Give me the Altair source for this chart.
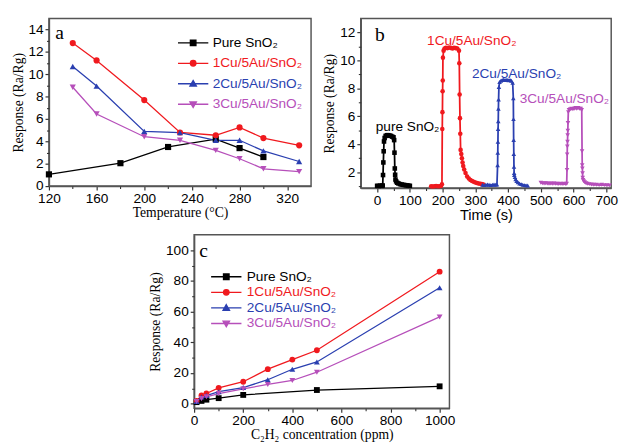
import altair as alt
import pandas as pd

SANS = "Liberation Sans"
SERIF = "Liberation Serif"

names = ["Pure SnO₂", "1Cu/5Au/SnO₂", "2Cu/5Au/SnO₂", "3Cu/5Au/SnO₂"]
colors = ["#000000", "#f0191e", "#2a3fb0", "#b64fba"]
marker_shapes = ["square", "circle", "triangle-up", "triangle-down"]
legend_shapes = [
    "M-5.5,0H5.5M-1,-1H1V1H-1Z",
    "M-5.5,0H5.5M1,0A1,1,0,1,1,-1,0A1,1,0,1,1,1,0Z",
    "M-5.5,0H5.5M0,-1.15L1.15,0.85H-1.15Z",
    "M-5.5,0H5.5M0,1.15L1.15,-0.85H-1.15Z",
]

# ---- panel a: response vs temperature ----
temp_pure = [120, 180, 220, 260, 280, 300]
resp_pure = [1.05, 2.05, 3.5, 4.2, 3.4, 2.6]
temp_cu = [140, 160, 200, 230, 260, 280, 300, 330]
resp_1cu = [12.8, 11.25, 7.7, 4.8, 4.55, 5.25, 4.3, 3.65]
resp_2cu = [10.7, 8.95, 4.9, 4.78, 4.1, 4.1, 3.15, 2.2]
resp_3cu = [8.85, 6.45, 4.42, 4.1, 3.2, 2.45, 1.55, 1.3]

# ---- panel b: dynamic response vs time ----
t_pure = [0, 5, 10, 15, 17, 18, 19, 20, 21, 23, 26, 30, 34, 38, 42, 46, 50, 52, 53, 54,
          55, 56, 58, 61, 65, 70, 75, 80, 85, 90, 95, 100]
v_pure = [1.03, 1.02, 1.04, 1.03, 1.05, 1.8, 2.7, 3.5, 4.2, 4.45, 4.6, 4.65, 4.65, 4.62, 4.6, 4.55, 4.5, 4.3, 3.4, 2.27,
          1.82, 1.48, 1.35, 1.25, 1.2, 1.15, 1.12, 1.1, 1.08, 1.06, 1.05, 1.03]
t_1cu = [165, 170, 175, 180, 185, 190, 195, 198,
         199, 199.5, 200, 200.5, 201, 203, 206,
         210, 215, 220, 225, 230, 235, 240, 245, 250,
         251, 252, 253, 254, 255, 257, 259, 261, 263, 266, 270, 275, 280, 285, 290, 295, 300, 305, 310, 315, 320, 325]
v_1cu = [1.0, 0.98, 1.0, 1.02, 1.0, 1.0, 1.02, 1.14,
         5.1, 6.3, 7.8, 8.57, 10.2, 10.7, 10.85,
         10.9, 10.88, 10.92, 10.9, 10.85, 10.9, 10.88, 10.85, 10.7,
         9.8, 7.56, 5.87, 4.75, 3.6, 3.3, 3.0, 2.7, 2.45, 2.2, 1.95, 1.7, 1.55, 1.45, 1.38, 1.32, 1.27, 1.23, 1.2, 1.18, 1.15, 1.13]
t_2cu = [322, 327, 332, 337, 342, 347, 352, 357, 362, 366,
         368, 368.5, 369, 369.5, 370, 370.5, 371,
         372, 374, 378, 382, 386, 390, 394, 398, 402, 406, 410, 414,
         416, 416.5, 417, 417.5, 418, 418.5, 419,
         421, 423, 426, 430, 435, 440, 445, 450, 455, 460]
v_2cu = [1.1, 1.08, 1.1, 1.12, 1.1, 1.08, 1.1, 1.12, 1.1, 1.12,
         2.5, 3.4, 4.18, 5.09, 5.65, 6.55, 7.2,
         8.1, 8.45, 8.55, 8.6, 8.62, 8.6, 8.62, 8.6, 8.58, 8.6, 8.55, 8.4,
         7.3, 5.8, 4.3, 3.3, 2.4, 1.95, 1.8,
         1.65, 1.5, 1.38, 1.28, 1.2, 1.15, 1.1, 1.08, 1.06, 1.05]
t_3cu = [500, 505, 510, 515, 520, 525, 530, 535, 540, 545, 550, 555, 560, 565, 570, 575, 579,
         580, 580.5, 581, 581.5, 582, 582.5, 583,
         584, 586, 590, 594, 598, 602, 606, 610, 614, 618, 622, 625,
         626, 626.5, 627, 627.5, 628,
         629, 631, 634, 638, 642, 648, 655, 662, 670, 678, 686, 694, 702, 710]
v_3cu = [1.25, 1.22, 1.2, 1.22, 1.2, 1.18, 1.2, 1.18, 1.2, 1.17, 1.18, 1.16, 1.18, 1.15, 1.17, 1.16, 1.18,
         2.16, 3.28, 3.84, 4.18, 4.64, 4.97, 5.53,
         6.3, 6.45, 6.5, 6.55, 6.5, 6.55, 6.6, 6.55, 6.6, 6.55, 6.55, 6.45,
         3.5, 2.5, 2.27, 1.93, 1.6,
         1.45, 1.35, 1.28, 1.22, 1.18, 1.15, 1.12, 1.1, 1.1, 1.08, 1.1, 1.08, 1.07, 1.06]
b_labels = ["pure SnO₂", "1Cu/5Au/SnO₂", "2Cu/5Au/SnO₂", "3Cu/5Au/SnO₂"]
b_label_x = [93, 289, 426, 572]
b_label_y = [5.2, 11.4, 9.0, 7.22]

# ---- panel c: response vs concentration ----
conc_pure = [10, 30, 50, 100, 200, 500, 1000]
c_pure = [1.0, 1.8, 2.6, 3.6, 5.7, 8.9, 11.3]
conc_cu = [10, 30, 50, 100, 200, 300, 400, 500, 1000]
c_1cu = [1.8, 5.3, 6.6, 10.3, 14.3, 22.5, 28.7, 34.8, 86.0]
c_2cu = [1.5, 4.3, 5.3, 7.8, 10.5, 15.6, 22.4, 27.2, 75.5]
c_3cu = [1.4, 3.3, 4.5, 6.6, 9.7, 12.5, 15.1, 20.5, 56.5]

letters = ["a", "b", "c"]
letter_x = [129, 8, 39]
letter_y = [13.7, 11.8, 99.2]


def to_long(xs_list, ys_list):
    rows = []
    for name, xs, ys in zip(names, xs_list, ys_list):
        for xv, yv in zip(xs, ys):
            rows.append({"series": name, "x": xv, "y": yv})
    return pd.DataFrame(rows)


color_expr = " : ".join(
    f"datum.value == '{n}' ? '{c}'" for n, c in zip(names, colors)) + " : 'black'"


def make_axis(values, title, title_font, title_size=14, title_pad=2):
    return alt.Axis(values=values, title=title, titleFont=title_font, titleFontSize=title_size,
                    titleFontWeight="normal", titleColor="black", titlePadding=title_pad,
                    labelFont=SANS, labelFontSize=14, labelColor="black", labelPadding=2,
                    tickSize=4, tickColor="#333", tickWidth=1.2, domainColor="#555",
                    domainWidth=1.5, grid=False, labelFlush=False, labelOverlap=False,
                    format="d")


def minor_axis(values, orient):
    return alt.Axis(values=values, orient=orient, labels=False, title=None, domain=False,
                    grid=False, tickSize=2.5, tickColor="#333", tickWidth=1.1)


def panel(df, xdom, ydom, xaxis, yaxis, xminor, yminor, w, h, msize, lw, letter_idx,
          legend_pos=None, texts=None):
    sx = alt.Scale(domain=xdom, nice=False, zero=False)
    sy = alt.Scale(domain=ydom, nice=False, zero=False)
    x_main = alt.X("x:Q", scale=sx, axis=xaxis)
    y_main = alt.Y("y:Q", scale=sy, axis=yaxis)
    x = alt.X("x:Q", scale=sx, axis=None)
    y = alt.Y("y:Q", scale=sy, axis=None)
    color = alt.Color("series:N", scale=alt.Scale(domain=names, range=colors), legend=None)
    base = alt.Chart(df)
    layers = [base.mark_line(strokeWidth=lw).encode(x=x_main, y=y_main, color=color)]
    layers.append(base.transform_filter("false").mark_point(opacity=0).encode(
        x=alt.X("x:Q", scale=sx, axis=minor_axis(xminor, "bottom")),
        y=alt.Y("y:Q", scale=sy, axis=minor_axis(yminor, "left"))))
    for name, shp in zip(names, marker_shapes):
        layers.append(
            base.transform_filter(alt.datum.series == name)
            .mark_point(filled=True, size=msize, opacity=1, shape=shp)
            .encode(x=x, y=y, color=color))
    if texts is not None:
        layers.append(
            alt.Chart(texts).mark_text(font=SANS, fontSize=14, align="center", baseline="middle")
            .encode(x=x, y=y, text="label:N", color=color))
    ldf = pd.DataFrame({"x": [letter_x[letter_idx]], "y": [letter_y[letter_idx]],
                        "t": [letters[letter_idx]]})
    layers.append(alt.Chart(ldf).mark_text(font=SERIF, fontSize=20, color="black",
                                           align="center", baseline="middle")
                  .encode(x=x, y=y, text="t:N"))
    if legend_pos is not None:
        lx, ly, lo, rp = legend_pos
        leg = alt.Legend(orient="none", legendX=lx, legendY=ly, title=None, padding=0,
                         labelFont=SANS, labelFontSize=14, labelColor={"expr": color_expr},
                         symbolFillColor={"expr": color_expr},
                         symbolStrokeColor={"expr": color_expr},
                         labelOffset=lo, symbolSize=32, symbolStrokeWidth=1.4, rowPadding=rp,
                         symbolOpacity=1, labelLimit=300)
        layers.append(
            base.transform_filter("false").mark_point(filled=True).encode(
                x=x, y=y,
                fill=alt.Fill("series:N", scale=alt.Scale(domain=names, range=colors), legend=None),
                stroke=alt.Stroke("series:N", scale=alt.Scale(domain=names, range=colors), legend=None),
                shape=alt.Shape("series:N", scale=alt.Scale(domain=names, range=legend_shapes), legend=leg),
            ))
    return (alt.layer(*layers)
            .resolve_scale(shape="independent")
            .resolve_axis(x="independent", y="independent")
            .properties(width=w, height=h))


df_a = to_long([temp_pure, temp_cu, temp_cu, temp_cu], [resp_pure, resp_1cu, resp_2cu, resp_3cu])
df_b = to_long([t_pure, t_1cu, t_2cu, t_3cu], [v_pure, v_1cu, v_2cu, v_3cu])
df_c = to_long([conc_pure, conc_cu, conc_cu, conc_cu], [c_pure, c_1cu, c_2cu, c_3cu])
df_bt = pd.DataFrame({"series": names, "label": b_labels, "x": b_label_x, "y": b_label_y})

ytitle = "Response (Ra/Rg)"

panel_a = panel(df_a, [120, 340], [0, 15],
                make_axis(list(range(120, 321, 40)), "Temperature (°C)", SERIF, 14, 0),
                make_axis(list(range(0, 15, 2)), ytitle, SERIF, 14, 3),
                list(range(140, 301, 40)), list(range(1, 15, 2)),
                269, 172, 40, 1.3, 0, legend_pos=(141, 18, 13, 7))

panel_b = panel(df_b, [-50, 715], [0.87, 13],
                make_axis(list(range(0, 701, 100)), "Time (s)", SANS, 15, 0),
                make_axis(list(range(2, 13, 2)), ytitle, SERIF, 14, 3),
                list(range(50, 701, 100)), list(range(1, 13, 2)),
                257, 174, 22, 1.8, 1, texts=df_bt)

panel_c = panel(df_c, [0, 1040], [-3, 110],
                make_axis(list(range(0, 1001, 200)), "C₂H₂ concentration (ppm)", SERIF, 14, 0),
                make_axis(list(range(0, 101, 20)), ytitle, SERIF, 14, 3),
                list(range(100, 1001, 200)), list(range(10, 101, 20)),
                262, 178, 36, 1.3, 2, legend_pos=(26, 36, 14, 2))

spacer = (alt.Chart(pd.DataFrame({"x": [0]})).mark_point(opacity=0)
          .encode(x=alt.value(0), y=alt.value(0))
          .properties(width=100, height=10, view=alt.ViewBackground(stroke="transparent")))

indep = dict(color="independent", fill="independent", stroke="independent", shape="independent")

top = alt.hconcat(panel_a, panel_b, spacing=10).resolve_scale(**indep)
bottom = alt.hconcat(spacer, panel_c, spacing=0).resolve_scale(**indep)

chart = (alt.vconcat(top, bottom, spacing=8).resolve_scale(**indep)
         .properties(padding={"left": 2, "top": 4, "right": 0, "bottom": 0}, background="white")
         .configure_view(stroke="#555", strokeWidth=1.5))

chart.save("out.html", embed_options={"renderer": "svg", "actions": False})
